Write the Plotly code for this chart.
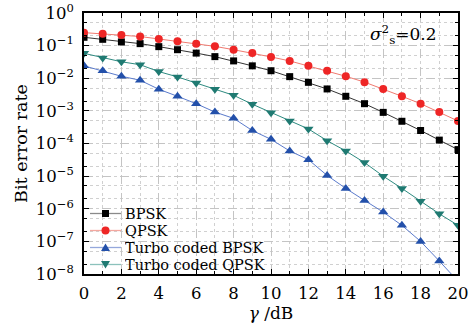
import plotly.graph_objects as go

# ---------------- data ----------------
snr_db = list(range(0, 21))
ber_bpsk = [0.18, 0.156, 0.13, 0.115, 0.093, 0.075, 0.059, 0.046, 0.034, 0.024, 0.017,
            0.0112, 0.0075, 0.0047, 0.0028, 0.00166, 0.00090, 0.00048, 0.00025, 0.000127, 0.000065]
ber_qpsk = [0.25, 0.23, 0.21, 0.19, 0.16, 0.135, 0.115, 0.095, 0.075, 0.059, 0.045,
            0.034, 0.024, 0.017, 0.0115, 0.0076, 0.0047, 0.0028, 0.00166, 0.00092, 0.00049]
ber_turbo_bpsk = [0.024, 0.017, 0.0115, 0.0087, 0.0046, 0.0028, 0.00166, 0.00092, 0.00059, 0.00025, 0.000134,
                  5.9e-5, 3.2e-5, 1.05e-5, 4.2e-6, 1.8e-6, 7.9e-7, 3.1e-7, 1.0e-7, 2.5e-8, 6e-9]
ber_turbo_qpsk = [0.058, 0.042, 0.032, 0.026, 0.016, 0.011, 0.0071, 0.0046, 0.0030, 0.0016, 0.00088,
                  0.00049, 0.00028, 0.000122, 5.9e-5, 2.6e-5, 1.0e-5, 4.2e-6, 1.7e-6, 7e-7, 3.1e-7]

series_names = ["BPSK", "QPSK", "Turbo coded BPSK", "Turbo coded QPSK"]
y_tick_vals = [1, 1e-1, 1e-2, 1e-3, 1e-4, 1e-5, 1e-6, 1e-7, 1e-8]
y_tick_text = ["10<sup>0</sup>", "10<sup>−1</sup>", "10<sup>−2</sup>", "10<sup>−3</sup>", "10<sup>−4</sup>",
               "10<sup>−5</sup>", "10<sup>−6</sup>", "10<sup>−7</sup>", "10<sup>−8</sup>"]
x_tick_vals = [0, 2, 4, 6, 8, 10, 12, 14, 16, 18, 20]

# ---------------- styles ----------------
FONT = "DejaVu Serif"
styles = [
    dict(symbol="square", msize=7, mcolor="#000000", lcolor="#333333", klcolor="#8a8a8a"),
    dict(symbol="circle", msize=8, mcolor="#ee2626", lcolor="#f07a70", klcolor="#f4a8a0"),
    dict(symbol="triangle-up", msize=9, mcolor="#2350aa", lcolor="#5b7bcc", klcolor="#95a8dc"),
    dict(symbol="triangle-down", msize=9, mcolor="#1f7a72", lcolor="#2d8a80", klcolor="#8cc2bc"),
]
series = [ber_bpsk, ber_qpsk, ber_turbo_bpsk, ber_turbo_qpsk]

W, H = 472, 327
# plot area in window pixels: x 84..458, y 13..274
ML, MR, MT, MB = 84, 14, 13, 53
PW, PH = W - ML - MR, H - MT - MB


def px_to_paper(px, py):
    """figure pixel -> paper coords"""
    return (px - ML) / PW, 1 - (py - MT) / PH


fig = go.Figure()
for name, ys, st in zip(series_names, series, styles):
    fig.add_trace(go.Scatter(
        x=snr_db, y=ys, mode="lines+markers", name=name, showlegend=False,
        line=dict(color=st["lcolor"], width=1),
        marker=dict(symbol=st["symbol"], size=st["msize"], color=st["mcolor"], line=dict(width=0)),
    ))

# ---------------- manual compact legend ----------------
shapes = []
annotations = []
bx0, by0 = px_to_paper(87, 204)
bx1, by1 = px_to_paper(290, 273)
shapes.append(dict(type="rect", xref="paper", yref="paper", x0=bx0, x1=bx1, y0=by1, y1=by0,
                   fillcolor="white", line=dict(width=0), layer="between"))
entry_py = [213.5, 230.5, 247.5, 264.5]
for name, st, py in zip(series_names, styles, entry_py):
    lx0, ly = px_to_paper(90, py)
    lx1, _ = px_to_paper(121, py)
    mx, _ = px_to_paper(105.5, py)
    tx, _ = px_to_paper(123.5, py)
    shapes.append(dict(type="line", xref="paper", yref="paper", x0=lx0, x1=lx1, y0=ly, y1=ly,
                       line=dict(color=st["klcolor"], width=1.3), layer="above"))
    s = st["msize"] / 2
    common = dict(xref="paper", yref="paper", xsizemode="pixel", ysizemode="pixel",
                  xanchor=mx, yanchor=ly, fillcolor=st["mcolor"], line=dict(width=0), layer="above")
    if st["symbol"] == "square":
        shapes.append(dict(type="rect", x0=-s, x1=s, y0=-s, y1=s, **common))
    elif st["symbol"] == "circle":
        shapes.append(dict(type="circle", x0=-s, x1=s, y0=-s, y1=s, **common))
    elif st["symbol"] == "triangle-up":
        shapes.append(dict(type="path", path=f"M{-s},{-s*0.8} L{s},{-s*0.8} L0,{s*0.9} Z", **common))
    else:
        shapes.append(dict(type="path", path=f"M{-s},{s*0.8} L{s},{s*0.8} L0,{-s*0.9} Z", **common))
    annotations.append(dict(xref="paper", yref="paper", x=tx, y=ly, text=name, showarrow=False,
                            xanchor="left", yanchor="middle", height=16, borderpad=0,
                            font=dict(family=FONT, size=14.5, color="black")))

ax, ay = px_to_paper(439, 34)
annotations.append(dict(xref="paper", yref="paper", x=ax, y=ay,
                        text="<i>σ</i><sup>2</sup><sub>s</sub>=0.2", showarrow=False,
                        xanchor="right", yanchor="middle", font=dict(family=FONT, size=17, color="black")))

grid_major = dict(showgrid=True, gridcolor="#c4c4c4", griddash="dash", gridwidth=0.8)

fig.update_layout(
    width=W, height=H,
    margin=dict(l=ML, r=MR, t=MT, b=MB, autoexpand=False),
    paper_bgcolor="white", plot_bgcolor="white",
    font=dict(family=FONT, size=16, color="black"),
    shapes=shapes, annotations=annotations,
    showlegend=False,
    xaxis=dict(
        range=[0, 20], tickvals=x_tick_vals, ticks="inside", ticklen=5, tickwidth=1, tickcolor="black",
        mirror="allticks", showline=True, linecolor="black", linewidth=1.6, zeroline=False,
        automargin=False, ticklabeloverflow="allow",
        minor=dict(dtick=1, ticks="inside", ticklen=3, tickcolor="black", showgrid=True,
                   gridcolor="#d0d0d0", griddash="dot", gridwidth=0.8),
        title=dict(text="<i>γ</i> /dB", font=dict(family=FONT, size=17), standoff=4),
        tickfont=dict(family=FONT, size=16.5), ticklabelstandoff=3,
        **grid_major,
    ),
    yaxis=dict(
        type="log", range=[-8, 0], tickvals=y_tick_vals, ticktext=y_tick_text,
        ticks="inside", ticklen=5, tickwidth=1, tickcolor="black",
        mirror="allticks", showline=True, linecolor="black", linewidth=1.6, zeroline=False,
        automargin=False, ticklabeloverflow="allow",
        minor=dict(ticks="inside", ticklen=3, tickcolor="black", showgrid=True,
                   gridcolor="#d0d0d0", griddash="dot", gridwidth=0.8),
        title=dict(text="Bit error rate", font=dict(family=FONT, size=17.5), standoff=4),
        tickfont=dict(family=FONT, size=16.5), ticklabelstandoff=5,
        **grid_major,
    ),
)

# remove the browser's default 8px body margin so the figure sits at the window corner
fig.write_html("out.html", config={"displayModeBar": False},
               post_script="document.body.style.margin='0';")
